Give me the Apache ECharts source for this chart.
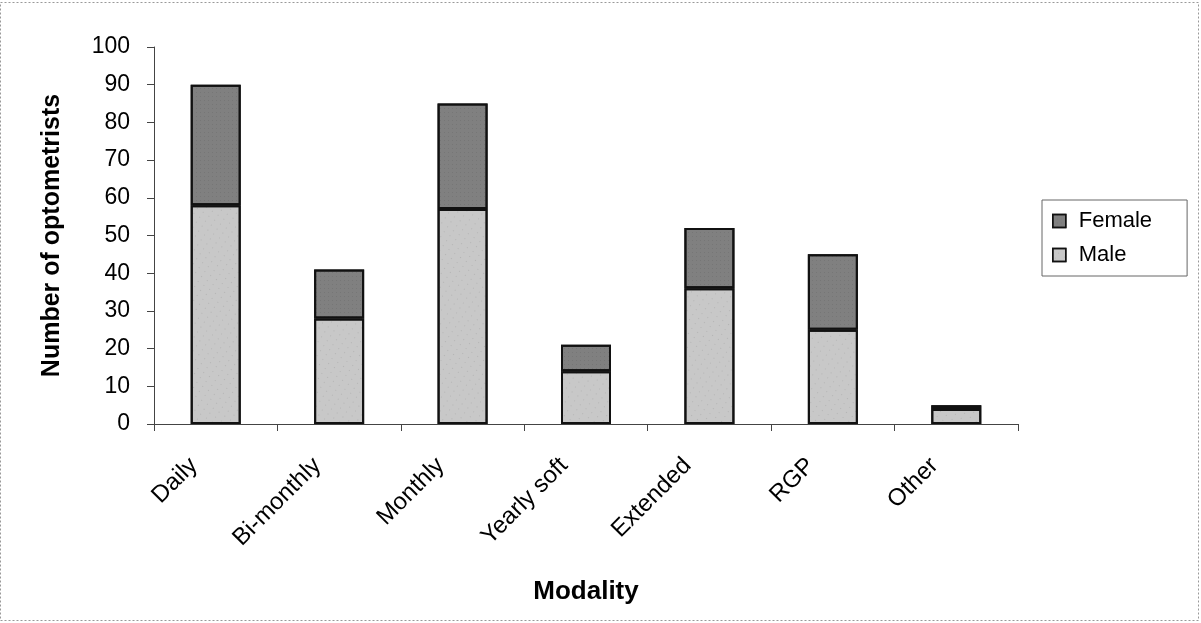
<!DOCTYPE html>
<html>
<head>
<meta charset="utf-8">
<script src="https://cdn.jsdelivr.net/npm/echarts@6/dist/echarts.min.js"></script>
<style>
html,body{margin:0;padding:0;background:#fff;}
#chart{width:1201px;height:623px;}
</style>
</head>
<body>
<div id="chart"></div>
<script>
var categories = ['Daily', 'Bi-monthly', 'Monthly', 'Yearly soft', 'Extended', 'RGP', 'Other'];
var maleValues = [58, 28, 57, 14, 36, 25, 4];
var femaleValues = [32, 13, 28, 7, 16, 20, 1];
var yTicks = [0, 10, 20, 30, 40, 50, 60, 70, 80, 90, 100];

var chart = echarts.init(document.getElementById('chart'));
var font = 'Arial, "Liberation Sans", sans-serif';
chart.setOption({
  animation: false,
  backgroundColor: '#fff',
  graphic: [{
    type: 'rect',
    shape: {x: 0.5, y: 2.5, width: 1198, height: 618},
    style: {fill: 'none', stroke: '#999', lineWidth: 1, lineDash: [2, 2]},
    silent: true
  }],
  grid: {left: 154, right: 183, top: 47, bottom: 199},
  legend: {
    orient: 'vertical',
    left: 1042,
    top: 200,
    icon: 'rect',
    itemWidth: 13,
    itemHeight: 13,
    itemGap: 12,
    padding: [10, 35, 10, 10],
    borderColor: '#666',
    borderWidth: 1,
    itemStyle: {borderColor: '#111', borderWidth: 1.5},
    textStyle: {fontFamily: font, fontSize: 22, color: '#000', padding: [0, 0, 0, 8]},
    data: ['Female', 'Male']
  },
  xAxis: {
    type: 'category',
    data: categories,
    name: 'Modality',
    nameLocation: 'middle',
    nameGap: 155,
    nameTextStyle: {fontFamily: font, fontSize: 26, fontWeight: 'bold', color: '#000'},
    axisLine: {lineStyle: {color: '#444', width: 1}},
    axisTick: {show: true, length: 7, lineStyle: {color: '#444'}},
    axisLabel: {rotate: 45, fontFamily: font, fontSize: 24, color: '#000', margin: 16,
      padding: [0, 31, 0, 0]}
  },
  yAxis: {
    type: 'value',
    min: 0,
    max: 100,
    interval: 10,
    name: 'Number of optometrists',
    nameLocation: 'middle',
    nameGap: 89,
    nameTextStyle: {fontFamily: font, fontSize: 25, fontWeight: 'bold', color: '#000'},
    axisLine: {show: true, lineStyle: {color: '#444', width: 1}},
    axisTick: {show: true, length: 7, lineStyle: {color: '#444'}},
    splitLine: {show: false},
    axisLabel: {fontFamily: font, fontSize: 23, color: '#000', margin: 24,
      formatter: function (v) { return yTicks.indexOf(v) >= 0 ? String(v) : ''; }}
  },
  series: [
    {
      name: 'Male', type: 'bar', stack: 'total', data: maleValues, barWidth: 50,
      itemStyle: {color: '#c8c8c8', borderColor: '#111', borderWidth: 2,
        decal: {symbol: 'rect', symbolSize: 0.6, color: 'rgba(40,40,40,0.4)',
          dashArrayX: [1, 6], dashArrayY: [1, 5], rotation: 0.6}}
    },
    {
      name: 'Female', type: 'bar', stack: 'total', data: femaleValues, barWidth: 50,
      itemStyle: {color: '#808080', borderColor: '#111', borderWidth: 2,
        decal: {symbol: 'rect', symbolSize: 0.6, color: 'rgba(30,30,30,0.3)',
          dashArrayX: [1, 3], dashArrayY: [1, 3], rotation: 0}}
    }
  ]
});
</script>
</body>
</html>
